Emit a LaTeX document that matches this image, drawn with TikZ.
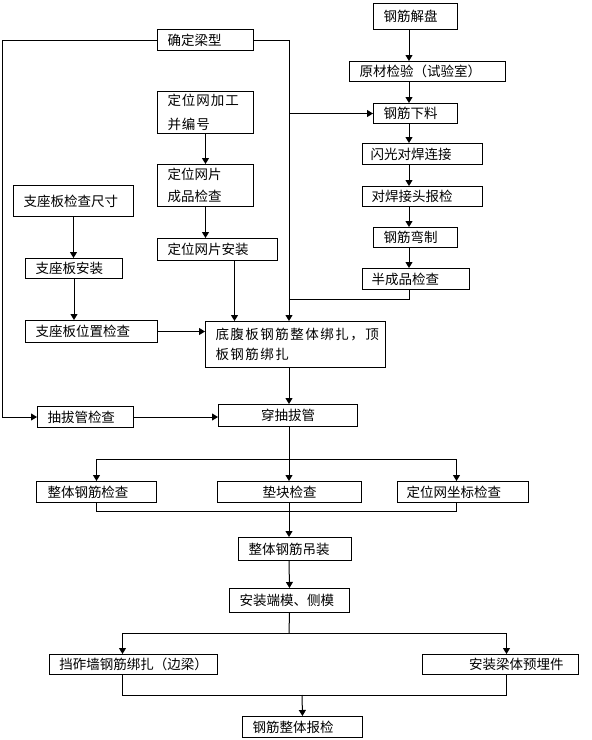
\documentclass[tikz,border=0pt]{standalone}
\usepackage{fontspec}
\newfontfamily\cjk{Noto Sans CJK SC}
\newfontfamily\cjkwide[LetterSpace=11]{Noto Sans CJK SC}
\newfontfamily\cjkmid[LetterSpace=7]{Noto Sans CJK SC}
\usepackage{tikz}
\usetikzlibrary{arrows.meta}

\begin{document}
\begin{tikzpicture}[line join=miter,>={Triangle[width=7pt,length=6pt]},x=1pt,y=-1pt, line width=1pt,
    box/.style={draw, anchor=north west, inner xsep=10pt, inner ysep=0pt, align=left, font=\cjk\fontsize{13.5}{22}\selectfont}]
                        \useasboundingbox (0,0) rectangle (592,740);

                        \coordinate (axis) at (289,0);
                        \coordinate (col) at (409,0);

                        % right column
                        \node[box, text width=64pt, minimum height=26pt] (jiepan) at (373,3) {钢筋解盘};
                        \node[box, text width=136pt, minimum height=20pt] (yuancai) at (349,61) {原材检验（试验室）};
                        \node[box, text width=64pt, minimum height=20pt] (xialiao) at (373,103) {钢筋下料};
                        \node[box, inner xsep=8pt, text width=104pt, minimum height=21pt] (shanguang) at (362,143) {闪光对焊连接};
                        \node[box, inner xsep=9pt, text width=102pt, minimum height=20pt] (baojian) at (362,186) {对焊接头报检};
                        \node[box, text width=64pt, minimum height=20pt] (wanzhi) at (373,227) {钢筋弯制};
                        \node[box, inner xsep=9pt, text width=89pt, minimum height=21pt] (banchengpin) at (362,268) {半成品检查};

                        % middle column
                        \node[box, text width=76pt, minimum height=21pt] (dingliang) at (157,29) {确定梁型};
                        \node[box, text width=76pt, minimum height=42pt, font=\cjkmid\fontsize{13.5}{24}\selectfont] (jiagong) at (157,91) {定位网加工\\并编号};
                        \node[box, text width=76pt, minimum height=42pt] (chengpin) at (157,164) {定位网片\\成品检查};
                        \node[box, text width=100pt, minimum height=22pt] (anzhuang) at (157,238) {定位网片安装};
                        \node[box, text width=160pt, minimum height=46pt, font=\cjkwide\fontsize{13.5}{20}\selectfont] (dibo) at (205,321) {底腹板钢筋整体绑扎，顶\\板钢筋绑扎};
                        \node[box, align=center, text width=119pt, minimum height=22pt] (chuan) at (218,404) {穿抽拔管};

                        % left column
                        \node[box, text width=100pt, minimum height=31pt] (zhizuo) at (13,185) {支座板检查尺寸};
                        \node[box, text width=77pt, minimum height=20pt] (zzanzhuang) at (25,258) {支座板安装};
                        \node[box, text width=112pt, minimum height=22pt] (zzweizhi) at (25,320) {支座板位置检查};
                        \node[box, text width=76pt, minimum height=21pt] (choubaguan) at (37,406) {抽拔管检查};

                        % lower part
                        \node[box, inner xsep=11pt, text width=98pt, minimum height=21pt] (zhengti) at (36,481) {整体钢筋检查};
                        \node[box, align=center, text width=124pt, minimum height=21pt] (diankuai) at (217,481) {垫块检查};
                        \node[box, inner xsep=9pt, text width=113pt, minimum height=21pt] (zuobiao) at (397,481) {定位网坐标检查};
                        \node[box, text width=93pt, minimum height=23pt] (diaozhuang) at (238,537) {整体钢筋吊装};
                        \node[box, text width=100pt, minimum height=24pt] (duanmo) at (229,588) {安装端模、侧模};
                        \node[box, text width=148pt, minimum height=20pt] (dangzha) at (49,654) {挡砟墙钢筋绑扎（边梁）};
                        \node[box, align=right, inner xsep=15pt, text width=126pt, minimum height=20pt] (maijian) at (422,654) {安装梁体预埋件};
                        \node[box, text width=100pt, minimum height=21pt] (zongjian) at (242,716) {钢筋整体报检};

                        \coordinate (merge) at (289,299);
                        \coordinate (fen1) at (289,459);
                        \coordinate (he1) at (289,511);
                        \coordinate (fen2) at (289,633);
                        \coordinate (he2) at (302,695);

                        % connectors
                        \draw[->] (dingliang.west) -| ([xshift=-35pt]choubaguan.west) -- (choubaguan.west);
                        \draw[->] (dingliang.east) -| (axis |- dibo.north);
                        \draw[->] (axis |- xialiao.west) -- (xialiao.west);

                        \draw[->] (col |- jiepan.south) -- (col |- yuancai.north);
                        \draw[->] (col |- yuancai.south) -- (col |- xialiao.north);
                        \draw[->] (col |- xialiao.south) -- (col |- shanguang.north);
                        \draw[->] (col |- shanguang.south) -- (col |- baojian.north);
                        \draw[->] (col |- baojian.south) -- (col |- wanzhi.north);
                        \draw[->] (col |- wanzhi.south) -- (col |- banchengpin.north);
                        \draw (col |- banchengpin.south) |- (merge);

                        \draw[->] (jiagong.south) -- (chengpin.north);
                        \draw[->] (chengpin.south) -- (chengpin.south |- anzhuang.north);
                        \draw[->] ([xshift=17pt]anzhuang.south) -- ([xshift=17pt]anzhuang.south |- dibo.north);

                        \draw[->] (zhizuo.south) -- (zhizuo.south |- zzanzhuang.north);
                        \draw[->] (zzanzhuang.south) -- (zzanzhuang.south |- zzweizhi.north);
                        \draw[->] (zzweizhi.east) -- (zzweizhi.east -| dibo.west);

                        \draw[->] (axis |- dibo.south) -- (axis |- chuan.north);
                        \draw[->] (choubaguan.east) -- (choubaguan.east -| chuan.west);

                        \draw (axis |- chuan.south) -- (fen1);
                        \draw[->] (fen1) -| (zhengti.north);
                        \draw[->] (fen1) -- (axis |- diankuai.north);
                        \draw[->] (fen1) -| ([xshift=-6.5pt]zuobiao.north);
                        \draw (zhengti.south) |- (he1);
                        \draw ([xshift=-6.5pt]zuobiao.south) |- (he1);
                        \draw[->] (axis |- diankuai.south) -- (axis |- diaozhuang.north);
                        \draw[->] (axis |- diaozhuang.south) -- (duanmo.north);

                        \draw (duanmo.south) -- (fen2);
                        \draw[->] (fen2) -| ([xshift=-11pt]dangzha.north);
                        \draw[->] (fen2) -| ([xshift=6pt]maijian.north);
                        \draw ([xshift=-11pt]dangzha.south) |- (he2);
                        \draw ([xshift=6pt]maijian.south) |- (he2);
                        \draw[->] (he2) -- (zongjian.north);
                    \end{tikzpicture}
\end{document}
